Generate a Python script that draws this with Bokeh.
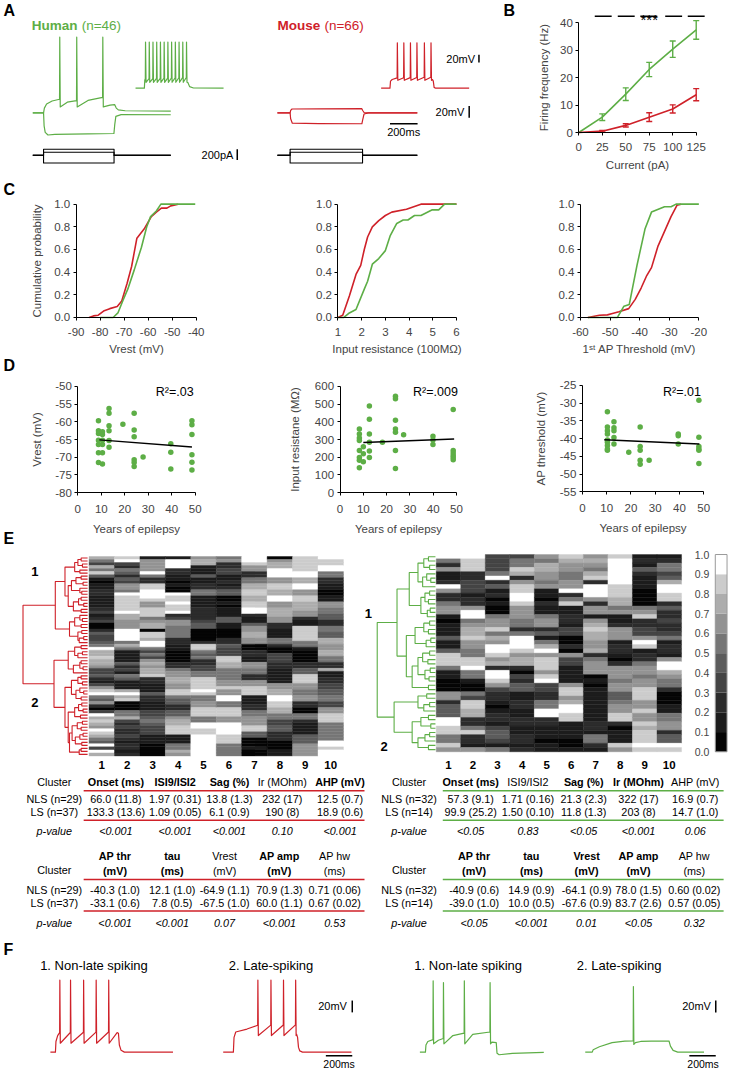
import numpy as np
from bokeh.plotting import figure
from bokeh.models import Range1d, LinearAxis, FixedTicker, NumeralTickFormatter, ColumnDataSource
from bokeh.core.properties import value, field
from bokeh.transform import linear_cmap
from bokeh.embed import file_html
from bokeh.resources import INLINE

FONT = "Liberation Sans"
RED = "#CF2129"
GREEN = "#5DAE46"
GRAYS = ["#050505", "#1c1c1c", "#2c2c2c", "#444444", "#5c5c5c", "#767676",
         "#939393", "#adadad", "#cccccc", "#ffffff"]

# ---------------- Panel B data ----------------
CURRENT_PA = [0, 25, 50, 75, 100, 125]
HUMAN_FREQ = [0, 5.6, 14.0, 23.0, 30.4, 37.4]
HUMAN_SEM = [0, 1.2, 2.3, 2.6, 3.0, 3.4]
MOUSE_FREQ = [0, 0.5, 2.6, 5.6, 8.6, 13.8]
MOUSE_SEM = [0, 0.3, 0.6, 1.6, 1.5, 2.2]
SIG_CURRENTS = [26, 50.5, 74.5, 101, 125]
SIG_LABEL = "***"

# ---------------- Panel C data (cumulative probability) ----------------
C1_RED_X = [-84.6, -82.8, -80.8, -78.3, -76, -72.9, -71, -68.8, -66.9, -64.7, -61.7, -58.7, -56.6, -54.5, -52.2, -50.6, -47.5]
C1_RED_Y = [0, 0.014, 0.02, 0.06, 0.078, 0.096, 0.145, 0.30, 0.45, 0.70, 0.78, 0.89, 0.93, 0.965, 0.965, 0.985, 1.0]
C1_GRN_X = [-80, -74.6, -72.6, -70.6, -68.5, -65.8, -62.8, -60.6, -59, -56.6, -54.7, -40.4]
C1_GRN_Y = [0, 0, 0.04, 0.145, 0.25, 0.42, 0.62, 0.8, 0.89, 0.94, 1.0, 1.0]
C2_RED_X = [1.0, 1.2, 1.48, 1.76, 1.96, 2.11, 2.25, 2.45, 2.72, 3.0, 3.27, 3.89, 4.5, 6.0]
C2_RED_Y = [0, 0.02, 0.19, 0.38, 0.46, 0.60, 0.71, 0.80, 0.855, 0.90, 0.93, 0.955, 1.0, 1.0]
C2_GRN_X = [1.0, 1.25, 1.48, 1.76, 2.11, 2.25, 2.45, 2.72, 3.0, 3.2, 3.48, 3.75, 3.95, 4.23, 4.5, 4.98, 5.25, 5.5, 6.0]
C2_GRN_Y = [0, 0.0, 0.04, 0.07, 0.25, 0.32, 0.47, 0.52, 0.59, 0.72, 0.83, 0.86, 0.86, 0.9, 0.9, 0.95, 0.95, 1.0, 1.0]
C3_RED_X = [-57.5, -53.6, -50.9, -49.2, -47, -43.7, -41.5, -39.5, -37.6, -36, -33.8, -31.6, -29.4, -27.4, -26]
C3_RED_Y = [0, 0.02, 0.023, 0.035, 0.05, 0.078, 0.16, 0.26, 0.37, 0.44, 0.63, 0.76, 0.89, 0.99, 1.0]
C3_GRN_X = [-57.5, -47.5, -45.3, -43.5, -40.9, -38.2, -36, -31.6, -29.4, -27.7, -20]
C3_GRN_Y = [0, 0, 0.1, 0.115, 0.46, 0.78, 0.93, 0.977, 0.977, 1.0, 1.0]

# ---------------- Panel D data (years of epilepsy) ----------------
D1_YEARS = [8.8, 8.8, 8.8, 8.8, 8.8, 8.8, 8.8, 10.5, 10.5, 10.5, 10.5, 10.5, 10.5,
            13.3, 13.3, 13.3, 13.3, 13.3, 13.3, 19.2, 24, 24, 24, 24, 24, 24, 27.8,
            39.6, 39.6, 39.6, 48.6, 48.6, 48.6, 48.6, 48.6, 48.6]
D1_VREST = [-59.7, -62.5, -63.3, -65.2, -66.4, -68.7, -71.5, -63.6, -68.7, -71.9, -66.4, -65.2, -62.8,
            -56.2, -57.6, -61.1, -62.5, -65.3, -67.2, -60.7, -57.6, -62.3, -64.2, -70.7, -71.5, -72.6, -69.9,
            -66.2, -68.6, -73.3, -59.7, -60.8, -63.6, -69.3, -71.4, -73.6]
D1_FIT_X = [9.2, 48.6]
D1_FIT_Y = [-65.1, -67.1]
D2_YEARS = [8.3, 8.3, 8.3, 8.3, 8.3, 8.3, 8.3, 8.3, 10, 10, 10, 12.6, 12.6, 12.6, 12.6, 12.6, 12.6,
            18.2, 23.8, 23.8, 23.8, 23.8, 23.8, 23.8, 23.8, 27.3, 39.9, 39.9, 39.9,
            48.6, 48.6, 48.6, 48.6, 48.6, 48.6]
D2_IR = [359, 331, 309, 294, 238, 198, 183, 140, 220, 260, 175, 489, 415, 331, 285, 235, 198,
         285, 544, 530, 409, 359, 341, 238, 136, 327, 318, 298, 272, 470, 238, 224, 210, 198, 186]
D2_FIT_X = [10, 49]
D2_FIT_Y = [283, 303]
D3_YEARS = [10.3, 10.3, 10.3, 10.3, 10.3, 10.3, 10.3, 10.3, 10.3, 13, 13, 13, 13, 13, 19.1,
            23.8, 23.8, 23.8, 23.8, 23.8, 27.5, 39.5, 39.5, 39.5, 48, 48, 48, 48, 48, 48]
D3_THR = [-32.4, -36.7, -37.8, -38.7, -40.4, -41, -41.9, -42.9, -43.3, -35.2, -36.9, -37.8, -39.7, -41.5, -43.8,
          -36.7, -42.2, -43.3, -46.1, -47.2, -46.1, -38.7, -39.2, -41.5, -29.2, -39.6, -42.2, -42.9, -43.3, -47.0]
D3_FIT_X = [9.0, 48.2]
D3_FIT_Y = [-40.3, -41.5]
R2_TEXT = ["R²=.03", "R²=.009", "R²=.01"]

# ---------------- Panel E data (normalised features, grey level 0-9 per cell) ----------------
HEAT_MOUSE = [
    "7537584101" "1221111231" "2300243345" "9778776334" "2136895462" "0397876987" "549397",
    "8932542436" "6598888897" "7666999957" "5111142315" "4111797800" "0557323223" "212212",
    "1666695228" "8999866888" "5677088799" "5353676778" "2211142211" "1334543331" "110000",
    "1999221101" "0098898892" "3665555221" "1000022566" "7766885442" "2446778881" "115576",
    "6771114112" "2551111222" "2344000028" "8545223355" "8888985566" "8885599889" "999999",
    "5622331121" "2440010111" "4411000224" "3338877555" "5668669955" "8886699998" "885555",
    "9986622557" "7887788992" "1146677660" "0221166552" "2668881112" "2556668844" "000100",
    "0677999668" "8779966777" "6622111552" "0033322111" "1166779988" "7755334422" "200011",
    "8888899779" "9668877766" "2118888855" "1000022448" "8866556622" "0055211114" "446666",
    "9889955221" "1001166554" "4225544776" "6775522711" "2233445533" "6688855555" "599899",
]
HEAT_HUMAN = [
    "9526112962" "2566101114" "1148885110" "0066244499" "885586",
    "9888223331" "2269956778" "6655889551" "0053887722" "582216",
    "3333592412" "0100566857" "6998672998" "6322101221" "344315",
    "3558726889" "9866655259" "9986772032" "4411221122" "112212",
    "6577665611" "0211566241" "5796888689" "3322559922" "111011",
    "8766556692" "5811221330" "0206331111" "6886799881" "111001",
    "6765782999" "6266167877" "6672566601" "0111111112" "215521",
    "8999999888" "7756112666" "1221026665" "6644566882" "011186",
    "1214211100" "0056822336" "9812256656" "6888668668" "788898",
    "1255347998" "8242232235" "1221699765" "5200011556" "624498",
]
# merge heights between neighbouring leaves (dendrogram)
GAPS_MOUSE = [0.10, 0.15, 0.08, 0.20, 0.12, 0.35, 0.10, 0.18, 0.07, 0.25, 0.12, 0.09, 0.30, 0.10,
              0.14, 0.06, 0.22, 0.10, 0.50, 0.12, 0.08, 0.20, 0.10, 0.28, 0.09, 0.15, 0.06, 0.13,
              1.00,
              0.10, 0.20, 0.08, 0.15, 0.30, 0.10, 0.12, 0.07, 0.22, 0.52, 0.10, 0.15, 0.08, 0.25,
              0.12, 0.06, 0.18, 0.10, 0.35, 0.09, 0.14, 0.07, 0.20, 0.11, 0.30, 0.08, 0.16, 0.10,
              0.24, 0.07, 0.12, 0.19, 0.09, 0.28, 0.10, 0.13]
GAPS_HUMAN = [0.12, 0.20, 0.10, 0.30, 0.15, 0.08, 0.22, 0.45, 0.10, 0.18, 0.12, 0.25, 0.09, 0.14,
              0.66, 0.10, 0.20, 0.12, 0.35, 0.08, 0.16, 0.50, 0.10, 0.22, 0.13, 0.30, 0.09, 0.18,
              0.11, 0.40, 0.12,
              1.00,
              0.15, 0.30, 0.10, 0.20, 0.71, 0.12, 0.25, 0.08, 0.40, 0.10, 0.18, 0.30, 0.12]
CB_TICKS = [0.0, 0.1, 0.2, 0.3, 0.4, 0.5, 0.6, 0.7, 0.8, 0.9, 1.0]

T_ROWS_M = ["Cluster", "NLS (n=29)", "LS (n=37)", "p-value"]
T_ROWS_H = ["Cluster", "NLS (n=32)", "LS (n=14)", "p-value"]
T1_HEAD = ["Onset (ms)", "ISI9/ISI2", "Sag (%)", "Ir (MOhm)", "AHP (mV)"]
T2_HEAD1 = ["AP thr", "tau", "Vrest", "AP amp", "AP hw"]
T2_HEAD2 = ["(mV)", "(ms)", "(mV)", "(mV)", "(ms)"]
M1_BOLD = ["bold", "bold", "bold", "normal", "bold"]
M1_NLS = ["66.0 (11.8)", "1.97 (0.31)", "13.8 (1.3)", "232 (17)", "12.5 (0.7)"]
M1_LS = ["133.3 (13.6)", "1.09 (0.05)", "6.1 (0.9)", "190 (8)", "18.9 (0.6)"]
M1_P = ["<0.001", "<0.001", "<0.001", "0.10", "<0.001"]
M2_BOLD = ["bold", "bold", "normal", "bold", "normal"]
M2_NLS = ["-40.3 (1.0)", "12.1 (1.0)", "-64.9 (1.1)", "70.9 (1.3)", "0.71 (0.06)"]
M2_LS = ["-33.1 (0.6)", "7.8 (0.5)", "-67.5 (1.0)", "60.0 (1.1)", "0.67 (0.02)"]
M2_P = ["<0.001", "<0.001", "0.07", "<0.001", "0.53"]
H1_BOLD = ["bold", "normal", "bold", "bold", "normal"]
H1_NLS = ["57.3 (9.1)", "1.71 (0.16)", "21.3 (2.3)", "322 (17)", "16.9 (0.7)"]
H1_LS = ["99.9 (25.2)", "1.50 (0.10)", "11.8 (1.3)", "203 (8)", "14.7 (1.0)"]
H1_P = ["<0.05", "0.83", "<0.05", "<0.001", "0.06"]
H2_BOLD = ["bold", "bold", "bold", "bold", "normal"]
H2_NLS = ["-40.9 (0.6)", "14.9 (0.9)", "-64.1 (0.9)", "78.0 (1.5)", "0.60 (0.02)"]
H2_LS = ["-39.0 (1.0)", "10.0 (0.5)", "-67.6 (0.9)", "83.7 (2.6)", "0.57 (0.05)"]
H2_P = ["<0.05", "<0.001", "0.01", "<0.05", "0.32"]

# ---------------- Example traces: (ms, mV) vertices and spike times ----------------
HUMAN_DEP = [(0, -70), (78, -70), (84, -62), (100, -55), (140, -50), (194, -47), (250, -52), (317, -49.5),
             (400, -49), (506, -44), (560, -57), (593, -56), (605, -62), (620, -65), (670, -66.5), (1000, -67.2)]
HUMAN_DEP_SPIKES = [194, 317, 506]
HUMAN_HYP = [(0, -70), (78, -70), (82, -92), (90, -103), (110, -107.5), (160, -106.5), (400, -105.5),
             (588, -105), (594, -90), (602, -76), (640, -73), (1000, -73.3)]
HUMAN_INSET = [(0, -70), (64, -70), (67, -50), (71, -46), (368, -43), (380, -56), (392, -66), (420, -69.5), (638, -70)]
HUMAN_INSET_SPIKES = [71, 98, 125, 152, 179, 206, 233, 260, 287, 314, 341, 368]
MOUSE_DEP = [(0, -70), (92, -70), (96, -66), (106, -63.5), (300, -63.3), (612, -63), (618, -66), (628, -69.5), (660, -70), (1014, -70)]
MOUSE_HYP = [(0, -70), (92, -70), (96, -80), (108, -87.5), (300, -88.3), (612, -88.5), (618, -82), (628, -72), (660, -70), (1014, -70)]
MOUSE_INSET = [(0, -70), (64, -70), (68, -52), (80, -48), (116, -44), (360, -42), (372, -48), (378, -52), (384, -68), (395, -70), (638, -70)]
MOUSE_INSET_SPIKES = [116, 163, 211, 258, 312, 360]
STIM_PA = [110, 55, -145]
HUMAN_STEP = (78, 589, 1000)
MOUSE_STEP = (92, 617, 1014)

F_MOUSE_NLS = [(0, -70), (38, -70), (42, -52), (55, -42), (70, -37), (440, -36), (505, -37), (515, -38),
               (522, -58), (535, -67), (560, -70), (928, -70)]
F_MOUSE_NLS_SPIKES = [70, 151, 250, 345, 440]
F_MOUSE_LS = [(0, -70), (77, -70), (82, -45), (95, -36), (180, -31), (261, -24.5), (547, -24), (556, -40),
              (563, -45), (570, -62), (580, -68), (600, -70), (971, -70)]
F_MOUSE_LS_SPIKES = [261, 360, 455, 547]
F_HUMAN_NLS = [(0, -70), (42, -70), (46, -58), (60, -52), (99, -49), (140, -50), (177, -47), (250, -42),
               (335, -38), (400, -40), (530, -36), (545, -53), (578, -54), (584, -72), (600, -74.5),
               (700, -72), (938, -70.5)]
F_HUMAN_NLS_SPIKES = [99, 177, 335, 530]
F_HUMAN_NLS_PEAKS = [50.5, 47.7, 50.5, 47.7]
F_HUMAN_LS = [(0, -70), (53, -70), (60, -66), (107, -61), (203, -54), (300, -51.5), (363, -51), (380, -54),
              (420, -52), (500, -51.5), (634, -51.2), (645, -60), (665, -67), (700, -70), (899, -70)]
F_HUMAN_LS_SPIKES = [363]
F_TITLES = ["1. Non-late spiking", "2. Late-spiking", "1. Non-late spiking", "2. Late-spiking"]
SCALE_MV, SCALE_MS, SCALE_PA = 20, 200, 200

# =====================================================================
W_REF, H_REF = 744, 1088
XR, YR = {}, {}

p = figure(frame_width=728, frame_height=1072, x_range=Range1d(0, W_REF), y_range=Range1d(H_REF, 0),
           x_axis_type=None, y_axis_type=None, toolbar_location=None, output_backend="svg",
           min_border=0, title=None)
p.outline_line_color = None
p.background_fill_color = "white"
p.border_fill_color = "white"


def add_xr(name, d0, d1, p0, p1):
    s = (d1 - d0) / (p1 - p0)
    XR[name] = Range1d(start=d0 - p0 * s, end=d0 + (W_REF - p0) * s)


def add_yr(name, d0, d1, p0, p1):
    b0, b1 = H_REF - p0, H_REF - p1
    s = (d1 - d0) / (b1 - b0)
    YR[name] = Range1d(start=d0 - b0 * s, end=d0 + (H_REF - b0) * s)


def txt(xs, ys, texts, size="11px", color="black", align="left", style="normal",
        baseline="middle", xname="default", yname="default"):
    n = len(texts)
    styles = style if isinstance(style, list) else [style] * n
    colors = color if isinstance(color, list) else [color] * n
    src = ColumnDataSource(dict(x=list(xs), y=list(ys), t=list(texts), fs=styles, c=colors))
    p.text(x="x", y="y", text="t", source=src, text_font=value(FONT), text_font_size=size,
           text_color=field("c"), text_align=align, text_baseline=baseline, text_font_style=field("fs"),
           x_range_name=xname, y_range_name=yname)


def axis(side, xname, yname, loc, ticks, bounds, label=None, fmt="0", lab_standoff=6, std=3,
         tick_size="11.5px"):
    ax = LinearAxis(x_range_name=xname, y_range_name=yname, fixed_location=loc,
                    ticker=FixedTicker(ticks=ticks, minor_ticks=[]), bounds=bounds)
    if label:
        ax.axis_label = label
    ax.formatter = NumeralTickFormatter(format=fmt)
    ax.major_tick_in = 0
    ax.major_tick_out = 3
    ax.minor_tick_line_color = None
    ax.major_label_standoff = int(std)
    ax.axis_label_standoff = int(lab_standoff)
    ax.major_label_text_font = FONT
    ax.axis_label_text_font = FONT
    ax.major_label_text_font_size = tick_size
    ax.axis_label_text_font_size = "11.5px"
    ax.axis_label_text_font_style = "normal"
    p.add_layout(ax, side)
    return ax


def with_spikes(knots, spikes=(), peak=0, trough=0):
    kt = [k[0] for k in knots]
    kv = [k[1] for k in knots]
    peaks = peak if isinstance(peak, list) else [peak] * len(spikes)
    pts = [k for k in knots if not any(ts <= k[0] <= ts + 5 for ts in spikes)]
    for ts, pk in zip(spikes, peaks):
        pts += [(ts, float(np.interp(ts, kt, kv))), (ts + 1.5, pk), (ts + 5, trough)]
    pts.sort(key=lambda q: q[0])
    return [q[0] for q in pts], [q[1] for q in pts]


def trace_panel(name, x0, y0, kx, ky, v0=-70):
    add_xr(name + "x", 0, 100, x0, x0 + 100 * kx)
    add_yr(name + "y", v0, v0 + 10, y0, y0 - 10 * ky)


def draw(name, xy, color, w=1.2):
    xs, ys = xy
    p.line(xs, ys, x_range_name=name + "x", y_range_name=name + "y", line_color=color,
           line_width=w, line_join="round")


def step(t_on, t_off, t_end, amp):
    return [0, t_on, t_on, t_off, t_off, t_end], [0, 0, amp, amp, 0, 0]


# ---------------- panel letters ----------------
txt([3, 514, 3, 3, 3, 3], [10, 10, 192, 370, 546, 963], ["A", "B", "C", "D", "E", "F"],
    size="16px", style="bold")

# ---------------- Panel A ----------------
txt([32, 283], [25.5, 25.5], ["Human", "Mouse"], size="13.5px", style="bold", color=[GREEN, RED])
txt([83, 331], [25.5, 25.5], ["(n=46)", "(n=66)"], size="13.5px", color=[GREEN, RED])
trace_panel("hA", 33, 114, 0.141, 0.6)
trace_panel("hI", 138, 89, 0.141, 0.4)
trace_panel("mA", 283, 114, 0.141, 0.6)
trace_panel("mI", 389, 89, 0.141, 0.4)
trace_panel("hC", 33, 157, 0.141, 0.055, 0)
trace_panel("mC", 283, 157, 0.141, 0.055, 0)
draw("hA", with_spikes(HUMAN_HYP), GREEN)
draw("hA", with_spikes(HUMAN_DEP, HUMAN_DEP_SPIKES, 58, -60), GREEN)
draw("hI", with_spikes(HUMAN_INSET, HUMAN_INSET_SPIKES, 47, -55), GREEN)
draw("mA", with_spikes(MOUSE_HYP), RED)
draw("mA", with_spikes(MOUSE_DEP), RED)
draw("mI", with_spikes(MOUSE_INSET, MOUSE_INSET_SPIKES, 45, -50), RED)
for a in STIM_PA:
    draw("hC", step(*HUMAN_STEP, a), "black", 1.1)
    draw("mC", step(*MOUSE_STEP, a), "black", 1.1)
# scale bars
p.segment(x0=[709], y0=[-5], x1=[709], y1=[-5 + SCALE_MV], x_range_name="mIx", y_range_name="mIy",
          line_color="black", line_width=1.5)
p.segment(x0=[1390], y0=[-78.3], x1=[1390], y1=[-78.3 + SCALE_MV], x_range_name="mAx", y_range_name="mAy",
          line_color="black", line_width=1.5)
p.segment(x0=[816], y0=[-88.3], x1=[816 + SCALE_MS], y1=[-88.3], x_range_name="mAx", y_range_name="mAy",
          line_color="black", line_width=1.5)
p.segment(x0=[1482], y0=[-91], x1=[1482], y1=[-91 + SCALE_PA], x_range_name="hCx", y_range_name="hCy",
          line_color="black", line_width=1.5)
txt([485, 474, 238], [59, 113, 157], ["20mV", "20mV", "200pA"], size="11px", align="right")
txt([412], [133.5], ["200ms"], size="11px", align="center")

# ---------------- Panel B ----------------
add_xr("bx", 0, 125, 591, 711)
add_yr("by", 0, 40, 134, 22.7)
axis("below", "bx", "by", 0, CURRENT_PA, (0, 125), label="Current (pA)", lab_standoff=5, std=7)
axis("left", "bx", "by", 0, [0, 10, 20, 30, 40], (0, 40), label="Firing frequency (Hz)", lab_standoff=7)
for fr, se, col in [(HUMAN_FREQ, HUMAN_SEM, GREEN), (MOUSE_FREQ, MOUSE_SEM, RED)]:
    p.line(CURRENT_PA, fr, x_range_name="bx", y_range_name="by", line_color=col, line_width=1.6)
    xs = CURRENT_PA[1:]
    lo = [f - s for f, s in zip(fr[1:], se[1:])]
    hi = [f + s for f, s in zip(fr[1:], se[1:])]
    p.segment(x0=xs, y0=lo, x1=xs, y1=hi, x_range_name="bx", y_range_name="by", line_color=col, line_width=1.4)
    p.scatter(xs + xs, lo + hi, marker="dash", size=6, line_color=col, line_width=1.4,
              x_range_name="bx", y_range_name="by")
p.segment(x0=[c - 9 for c in SIG_CURRENTS], y0=[16] * 5, x1=[c + 9 for c in SIG_CURRENTS], y1=[16] * 5,
          x_range_name="bx", line_color="black", line_width=1.4)
txt([75], [19.5], [SIG_LABEL], size="15px", align="center", baseline="alphabetic", xname="bx")

# ---------------- Panel C ----------------
add_yr("cy", 0, 1, 321.7, 206.7)
add_xr("c1x", -90, -40, 77.3, 200)
add_xr("c2x", 1, 6, 344.9, 466)
add_xr("c3x", -60, -20, 592.7, 713.7)
PROB_TICKS = [0, 0.2, 0.4, 0.6, 0.8, 1.0]
axis("below", "c1x", "cy", 0, [-90, -80, -70, -60, -50, -40], (-90, -40), label="Vrest (mV)", lab_standoff=3, std=8)
axis("left", "c1x", "cy", -90, PROB_TICKS, (0, 1), label="Cumulative probability", fmt="0.0", lab_standoff=9)
axis("below", "c2x", "cy", 0, [1, 2, 3, 4, 5, 6], (1, 6), label="Input resistance (100MΩ)", lab_standoff=3, std=8)
axis("left", "c2x", "cy", 1, PROB_TICKS, (0, 1), fmt="0.0")
axis("below", "c3x", "cy", 0, [-60, -50, -40, -30, -20], (-60, -20), label="1ˢᵗ AP Threshold (mV)", lab_standoff=3, std=8)
axis("left", "c3x", "cy", -60, PROB_TICKS, (0, 1), fmt="0.0")
for nm, gx, gy, rx, ry in [("c1x", C1_GRN_X, C1_GRN_Y, C1_RED_X, C1_RED_Y),
                           ("c2x", C2_GRN_X, C2_GRN_Y, C2_RED_X, C2_RED_Y),
                           ("c3x", C3_GRN_X, C3_GRN_Y, C3_RED_X, C3_RED_Y)]:
    p.line(rx, ry, x_range_name=nm, y_range_name="cy", line_color=RED, line_width=1.6)
    p.line(gx, gy, x_range_name=nm, y_range_name="cy", line_color=GREEN, line_width=1.6)

# ---------------- Panel D ----------------
add_xr("d1x", 0, 50, 79, 199)
add_yr("d1y", -50, -80, 391.7, 499.5)
add_xr("d2x", 0, 50, 347, 466)
add_yr("d2y", 600, 0, 391.7, 499.5)
add_xr("d3x", 0, 50, 594.7, 718.7)
add_yr("d3y", -25, -55, 390.7, 498.7)
YT = [0, 10, 20, 30, 40, 50]
axis("below", "d1x", "d1y", -80, YT, (0, 50), label="Years of epilepsy", lab_standoff=7, std=9)
axis("left", "d1x", "d1y", 0, [-80, -75, -70, -65, -60, -55, -50], (-80, -50), label="Vrest (mV)", lab_standoff=9)
axis("below", "d2x", "d2y", 0, YT, (0, 50), label="Years of epilepsy", lab_standoff=7, std=9)
axis("left", "d2x", "d2y", 0, [0, 100, 200, 300, 400, 500, 600], (0, 600), label="Input resistane (MΩ)", lab_standoff=11)
axis("below", "d3x", "d3y", -55, YT, (0, 50), label="Years of epilepsy", lab_standoff=7, std=9)
axis("left", "d3x", "d3y", 0, [-55, -50, -45, -40, -35, -30, -25], (-55, -25), label="AP threshold (mV)", lab_standoff=10)
for nm, xs, ys, fx, fy in [("d1", D1_YEARS, D1_VREST, D1_FIT_X, D1_FIT_Y),
                           ("d2", D2_YEARS, D2_IR, D2_FIT_X, D2_FIT_Y),
                           ("d3", D3_YEARS, D3_THR, D3_FIT_X, D3_FIT_Y)]:
    p.scatter(xs, ys, x_range_name=nm + "x", y_range_name=nm + "y", size=5.5, fill_color=GREEN,
              line_color=None)
    p.line(fx, fy, x_range_name=nm + "x", y_range_name=nm + "y", line_color="black", line_width=1.4)
txt([178, 444.5, 696.5], [397, 397, 397], R2_TEXT, size="12.5px", align="center")

# ---------------- Panel E ----------------
add_xr("hLx", 0, 10, 90.5, 350.5)
add_yr("hLy", 0, 66, 564.3, 766.7)
add_xr("hRx", 0, 10, 445.3, 696)
add_yr("hRy", 0, 46, 562.3, 762.5)
add_xr("dLx", 0, 1, 89, 23)
add_xr("dRx", 0, 1, 444.5, 385)
add_xr("cbx", 0, 1, 730.5, 742.5)
add_yr("cby", 0, 1, 762.5, 562.3)
cmap = linear_cmap("v", GRAYS, -0.5, 9.5)


def heatmap(cols, xname, yname):
    l, r, t, b, v = [], [], [], [], []
    for j, col in enumerate(cols):
        for i, ch in enumerate(col):
            l.append(j); r.append(j + 1); t.append(i); b.append(i + 1); v.append(int(ch))
    src = ColumnDataSource(dict(l=l, r=r, t=t, b=b, v=v))
    p.quad(left="l", right="r", top="t", bottom="b", source=src, fill_color=cmap, line_color=cmap,
           line_width=0.4, x_range_name=xname, y_range_name=yname)


def dendrogram(gaps, xname, yname, color):
    xs, ys = [], []

    def build(lo, hi):
        if lo == hi:
            return lo + 0.5, 0.0
        k = lo + int(np.argmax(gaps[lo:hi]))
        h = gaps[k]
        y1, h1 = build(lo, k)
        y2, h2 = build(k + 1, hi)
        xs.append([h1, h, h, h2])
        ys.append([y1, y1, y2, y2])
        return (y1 + y2) / 2, h

    build(0, len(gaps))
    p.multi_line(xs, ys, x_range_name=xname, y_range_name=yname, line_color=color, line_width=1.1)


heatmap(HEAT_MOUSE, "hLx", "hLy")
heatmap(HEAT_HUMAN, "hRx", "hRy")
dendrogram(GAPS_MOUSE, "dLx", "hLy", RED)
dendrogram(GAPS_HUMAN, "dRx", "hRy", GREEN)
txt([35, 35, 376, 392], [580, 712, 622, 757], ["1", "2", "1", "2"], size="13px", style="bold", align="center")
COLS = [str(i) for i in range(1, 11)]
txt([i + 0.5 for i in range(10)], [775.5] * 10, COLS, size="11.5px", style="bold", align="center", xname="hLx")
txt([i + 0.5 for i in range(10)], [775.5] * 10, COLS, size="11.5px", style="bold", align="center", xname="hRx")
# colour scale
p.quad(left=[0] * 10, right=[1] * 10, bottom=[k / 10 for k in range(10)], top=[(k + 1) / 10 for k in range(10)],
       fill_color=GRAYS, line_color=None, x_range_name="cbx", y_range_name="cby")
p.quad(left=[0], right=[1], bottom=[0], top=[1], fill_color=None, line_color="#9a9a9a", line_width=1,
       x_range_name="cbx", y_range_name="cby")
cb = axis("left", "cbx", "cby", 0, CB_TICKS, (0, 1), fmt="0.0", std=3, tick_size="10.5px")
cb.major_tick_line_color = None
cb.axis_line_color = None


def tables(cx, xs1, xs2, rows, b1, nls1, ls1, p1, b2, nls2, ls2, p2, color, lx0, lx1):
    TS = "10.8px"
    # table 1
    txt([cx] * 3, [793, 810.5, 823.5], rows[:3], size=TS, align="center")
    txt([cx], [843], [rows[3]], size=TS, align="center", style="italic")
    txt(xs1, [793] * 5, T1_HEAD, size=TS, align="center", style=b1)
    txt(xs1, [810.5] * 5, nls1, size=TS, align="center")
    txt(xs1, [823.5] * 5, ls1, size=TS, align="center")
    txt(xs1, [843] * 5, p1, size=TS, align="center", style="italic")
    # table 2
    txt([cx] * 3, [882, 903, 916], rows[:3], size=TS, align="center")
    txt([cx], [936], [rows[3]], size=TS, align="center", style="italic")
    txt(xs2, [868.5] * 5, T2_HEAD1, size=TS, align="center", style=b2)
    txt(xs2, [883] * 5, T2_HEAD2, size=TS, align="center", style=b2)
    txt(xs2, [903] * 5, nls2, size=TS, align="center")
    txt(xs2, [916] * 5, ls2, size=TS, align="center")
    txt(xs2, [936] * 5, p2, size=TS, align="center", style="italic")
    p.segment(x0=[lx0] * 4, x1=[lx1] * 4, y0=[802, 832, 892, 924], y1=[802, 832, 892, 924],
              line_color=color, line_width=1.5)


tables(55, [118, 178.5, 234, 288, 347], [117, 175.5, 229, 285, 341.5], T_ROWS_M,
       M1_BOLD, M1_NLS, M1_LS, M1_P, M2_BOLD, M2_NLS, M2_LS, M2_P, RED, 85, 372)
tables(417.5, [480.5, 539, 596, 652, 710], [484, 542.5, 599, 652, 709], T_ROWS_H,
       H1_BOLD, H1_NLS, H1_LS, H1_P, H2_BOLD, H2_NLS, H2_LS, H2_P, GREEN, 452, 739)

# ---------------- Panel F ----------------
txt([40.5, 233.3, 422.9, 589], [979] * 4, F_TITLES, size="13px")
trace_panel("fRN", 51, 1067.3, 0.135, 0.6)
trace_panel("fRL", 227.6, 1067.3, 0.135, 0.6)
trace_panel("fGN", 428.6, 1067.3, 0.135, 0.6)
trace_panel("fGL", 597.6, 1067.3, 0.135, 0.6)
draw("fRN", with_spikes(F_MOUSE_NLS, F_MOUSE_NLS_SPIKES, 51.7, -55), RED)
draw("fRL", with_spikes(F_MOUSE_LS, F_MOUSE_LS_SPIKES, 51.7, -42), RED)
draw("fGN", with_spikes(F_HUMAN_NLS, F_HUMAN_NLS_SPIKES, F_HUMAN_NLS_PEAKS, -56), GREEN)
draw("fGL", with_spikes(F_HUMAN_LS, F_HUMAN_LS_SPIKES, 41, -57), GREEN)
for nm, tb in [("fRL", 977), ("fGL", 988)]:
    p.segment(x0=[tb], y0=[-2.8], x1=[tb], y1=[-2.8 + SCALE_MV], x_range_name=nm + "x", y_range_name=nm + "y",
              line_color="black", line_width=1.5)
    p.segment(x0=[tb - SCALE_MS], y0=[-76.2], x1=[tb], y1=[-76.2], x_range_name=nm + "x", y_range_name=nm + "y",
              line_color="black", line_width=1.5)
txt([354, 726], [1021, 1021], ["20mV", "20mV"], size="11px", align="right")
txt([346, 718], [1079.5, 1079.5], ["200ms", "200ms"], size="10.5px", align="center")

p.extra_x_ranges = XR
p.extra_y_ranges = YR

open("out.html", "w").write(file_html(p, INLINE))
